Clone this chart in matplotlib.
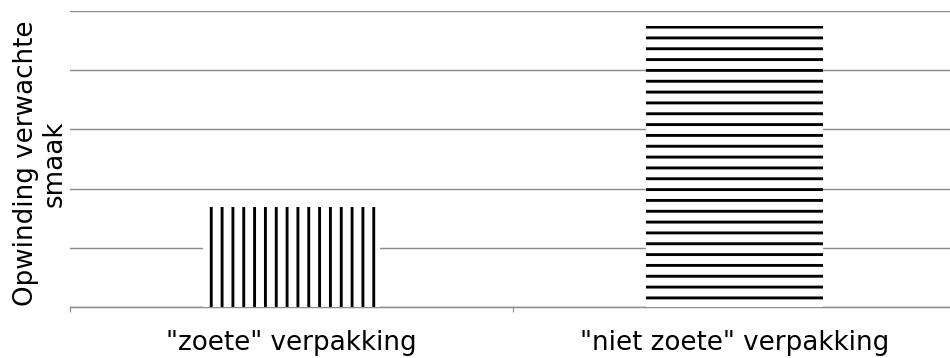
import matplotlib.pyplot as plt
import numpy as np

categories = ['"zoete" verpakking', '"niet zoete" verpakking']
values = [1.69, 4.75]
hatches = ['|', '-']

DPI = 65
plt.rcParams['hatch.linewidth'] = 3.2
plt.rcParams['font.family'] = 'DejaVu Sans'

fig = plt.figure(figsize=(950 / DPI, 358 / DPI), dpi=DPI)
ax = fig.add_axes([70 / 950, 51 / 358, 886 / 950, 296 / 358])

x = np.arange(len(categories))
for xi, v, h in zip(x, values, hatches):
    ax.bar(xi, v, width=0.40, color='white', edgecolor='black',
           linewidth=0, hatch=h, zorder=3)

ax.set_xlim(-0.5, 1.5)
ax.set_ylim(0, 5)
ax.set_yticks(np.arange(0, 6, 1))
ax.yaxis.grid(True, color='#8c8c8c', linewidth=1.6)
ax.set_axisbelow(True)
ax.tick_params(axis='y', length=0, labelleft=False)

ax.set_xticks(x)
ax.set_xticklabels(categories, fontsize=29)
ax.set_xticks([-0.5, 0.5, 1.5], minor=True)
ax.tick_params(axis='x', which='major', length=0, pad=26)
ax.tick_params(axis='x', which='minor', length=6, width=1.3, color='#8c8c8c')

for s in ['top', 'right', 'left']:
    ax.spines[s].set_visible(False)
ax.spines['bottom'].set_color('#8c8c8c')
ax.spines['bottom'].set_linewidth(1.6)

ax.set_ylabel('Opwinding verwachte\nsmaak', fontsize=29, linespacing=1.12)
ax.yaxis.set_label_coords(-0.003, 0.485)

fig.savefig('out.png', dpi=DPI)
